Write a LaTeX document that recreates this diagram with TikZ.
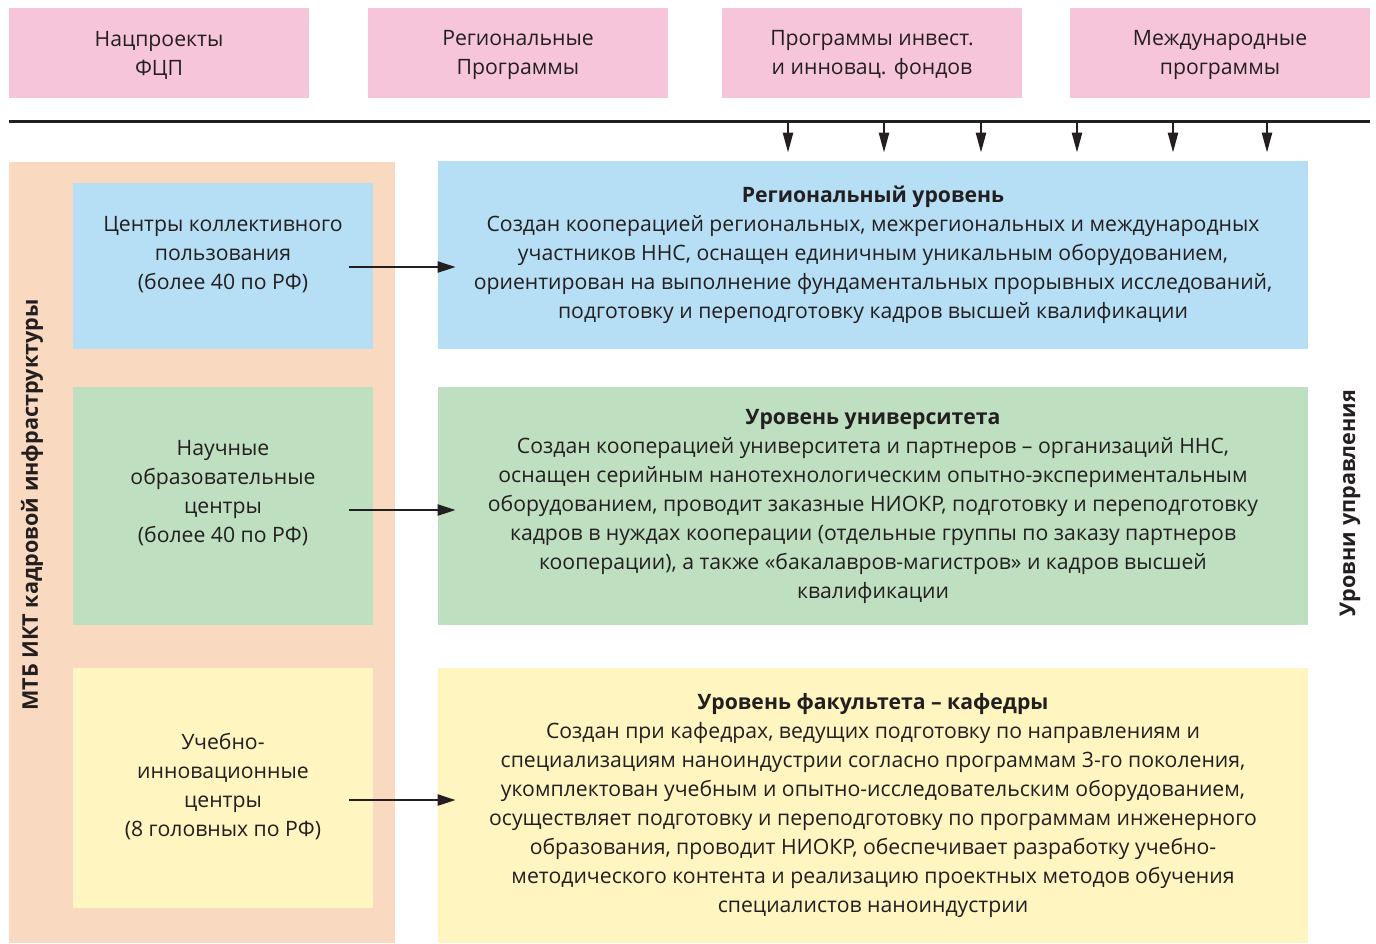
\documentclass[tikz,border=0pt]{standalone}
\usepackage{fontspec}
\setmainfont{Open Sans}
\usepackage{xcolor}
\usetikzlibrary{positioning,arrows.meta}

\definecolor{pinkbox}{HTML}{F7C5DA}
\definecolor{bluebox}{HTML}{B6DEF4}
\definecolor{greenbox}{HTML}{BEDFC0}
\definecolor{yellowbox}{HTML}{FEF5C0}
\definecolor{peachbox}{HTML}{F9D9C0}
\definecolor{ink}{HTML}{231F20}

\begin{document}
\begin{tikzpicture}[
  x=0.5pt,y=-0.5pt,
  font=\fontsize{10.6pt}{14.5pt}\selectfont,
  text=ink,
  src/.style={fill=pinkbox,minimum width=150pt,minimum height=45pt,inner sep=0pt},
  srctxt/.style={align=center},
  lv/.style={minimum width=150pt,inner sep=0pt,align=center},
  rl/.style={minimum width=435pt,inner sep=0pt,align=center},
  >={Triangle[length=9pt,width=5.5pt]},
  conn/.style={->,line width=1.2pt,draw=ink},
  side/.style={font=\fontsize{10.8pt}{12pt}\selectfont\bfseries,rotate=90}
]
\useasboundingbox (0,0) rectangle (1376,943);
% sources of funding
\node[src] (ncp) at (159,53)  {};
\node[src] (rgp) at (518,53)  {};
\node[src] (inv) at (872,53)  {};
\node[src] (mzp) at (1220,53) {};
\node[srctxt] at (159,55)  {Нацпроекты\\ФЦП};
\node[srctxt] at (518,55)  {Региональные\\Программы};
\node[srctxt] at (872,55)  {Программы инвест.\\и инновац. фондов};
\node[srctxt] at (1220,55) {Международные\\программы};
% common bus
\coordinate (busL) at (9,121);
\coordinate (busR) at (1370,121);
\draw[line width=1.5pt,draw=ink] (busL) -- (busR);
% infrastructure strip
\fill[peachbox] (9,162) rectangle (395,943);
\node[side] (mtb) at (32,505) {МТБ ИКТ кадровой инфраструктуры};
% infrastructure levels
\node[lv,fill=bluebox,minimum height=83pt] (ckp) at (223,266) {};
\node[lv,fill=greenbox,minimum height=119pt] (noc) at (223,506) {};
\node[lv,fill=yellowbox,minimum height=120pt] (uic) at (223,788) {};
\node[align=center] at (223,255) {Центры коллективного\\пользования\\(более 40 по РФ)};
\node[align=center] at (223,493) {Научные\\образовательные\\центры\\(более 40 по РФ)};
\node[align=center] at (223,787) {Учебно-\\инновационные\\центры\\(8 головных по РФ)};
% management levels
\node[rl,fill=bluebox,minimum height=94pt] (reg) at (873,255)
  {\textbf{Региональный уровень}\\
   Создан кооперацией региональных, межрегиональных и международных\\
   участников ННС, оснащен единичным уникальным оборудованием,\\
   ориентирован на выполнение фундаментальных прорывных исследований,\\
   подготовку и переподготовку кадров высшей квалификации};
\node[rl,fill=greenbox,minimum height=119pt] (uni) at (873,506)
  {\textbf{Уровень университета}\\
   Создан кооперацией университета и партнеров – организаций ННС,\\
   оснащен серийным нанотехнологическим опытно-экспериментальным\\
   оборудованием, проводит заказные НИОКР, подготовку и переподготовку\\
   кадров в нуждах кооперации (отдельные группы по заказу партнеров\\
   кооперации), а также «бакалавров-магистров» и кадров высшей\\
   квалификации};
\node[rl,fill=yellowbox,minimum height=137.5pt] (fak) at (873,805.5)
  {\textbf{Уровень факультета – кафедры}\\
   Создан при кафедрах, ведущих подготовку по направлениям и\\
   специализациям наноиндустрии согласно программам 3-го поколения,\\
   укомплектован учебным и опытно-исследовательским оборудованием,\\
   осуществляет подготовку и переподготовку по программам инженерного\\
   образования, проводит НИОКР, обеспечивает разработку учебно-\\
   методического контента и реализацию проектных методов обучения\\
   специалистов наноиндустрии};
\node[side] (upr) at (1350,503) {Уровни управления};
% feeds from the bus
\foreach \x in {788,884,981,1077,1173,1267}
  \draw[conn,>={Triangle[length=10pt,width=5pt]}] (busL -| \x,0) -- (reg.north -| \x,0) [shorten >=4pt];
% infrastructure to level
\draw[conn,shorten <=-12pt,shorten >=-9pt] ([yshift=-0.5pt]ckp.east) -- ([yshift=-0.5pt]ckp.east -| reg.west);
\draw[conn,shorten <=-12pt,shorten >=-9pt] ([yshift=-2pt]noc.east) -- ([yshift=-2pt]noc.east -| uni.west);
\draw[conn,shorten <=-12pt,shorten >=-9pt] ([yshift=-6pt]uic.east) -- ([yshift=-6pt]uic.east -| fak.west);
\end{tikzpicture}
\end{document}
